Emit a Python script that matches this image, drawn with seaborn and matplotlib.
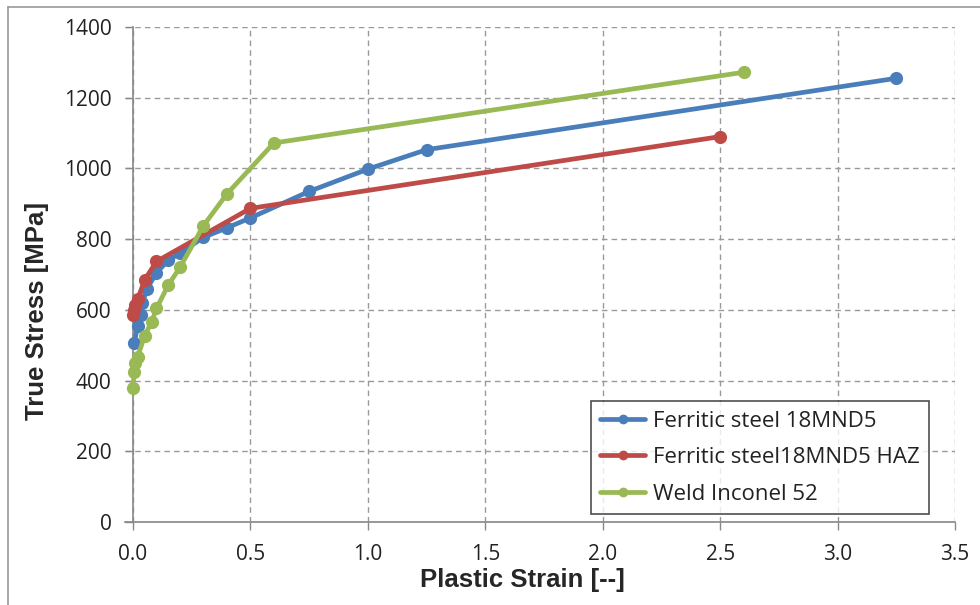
import pandas as pd
import seaborn as sns
import matplotlib.pyplot as plt
from matplotlib.lines import Line2D

# Data
blue_x = [0.005, 0.02, 0.035, 0.04, 0.06, 0.1, 0.15, 0.2, 0.3, 0.4, 0.5, 0.75, 1.0, 1.25, 3.25]
blue_y = [505, 555, 585, 620, 660, 705, 740, 760, 805, 832, 860, 935, 998, 1053, 1255]

red_x = [0.0, 0.005, 0.01, 0.02, 0.05, 0.1, 0.5, 2.5]
red_y = [585, 600, 615, 630, 685, 737, 887, 1090]

green_x = [0.0, 0.005, 0.01, 0.02, 0.05, 0.08, 0.1, 0.15, 0.2, 0.3, 0.4, 0.6, 2.6]
green_y = [380, 425, 450, 468, 527, 567, 604, 670, 720, 838, 928, 1072, 1272]

names = ["Ferritic steel 18MND5", "Ferritic steel18MND5 HAZ", "Weld Inconel 52"]
colors = ["#4a7ebb", "#be4b48", "#98b954"]

frames = []
for name, xs, ys in zip(names, [blue_x, red_x, green_x], [blue_y, red_y, green_y]):
    frames.append(pd.DataFrame({"strain": xs, "stress": ys, "material": name}))
df = pd.concat(frames, ignore_index=True)

sns.set_style("white")
plt.rcParams['font.family'] = ['Open Sans', 'DejaVu Sans']

W, H = 980, 605
fig = plt.figure(figsize=(9.8, 6.05), dpi=100)
# plot area in pixels: left 125, right 955, top 27, bottom 522
ax = fig.add_axes([125 / W, 1 - 522 / H, (955 - 125) / W, (522 - 27) / H])

sns.lineplot(data=df, x="strain", y="stress", hue="material", palette=colors,
             marker="o", markersize=9.5, markeredgewidth=0, linewidth=3.4,
             sort=False, estimator=None, ax=ax, clip_on=False, zorder=5)

ax.set_xlim(-0.034, 3.5)
ax.set_ylim(0, 1400)
ax.set_xticks([0, 0.5, 1.0, 1.5, 2.0, 2.5, 3.0, 3.5])
ax.set_xticklabels(["0.0", "0.5", "1.0", "1.5", "2.0", "2.5", "3.0", "3.5"])
ax.set_yticks(range(0, 1401, 200))
ax.tick_params(axis="both", labelsize=15, length=5.5, width=1, color="#888888",
               direction="out", bottom=True, left=True, labelcolor="#222222")
ax.tick_params(axis="y", pad=10)
ax.tick_params(axis="x", pad=10)
ax.grid(True, linestyle=(0, (4, 3)), color="#999999", linewidth=1)

for side in ["top", "right"]:
    ax.spines[side].set_visible(False)
for side in ["left", "bottom"]:
    ax.spines[side].set_color("#888888")
    ax.spines[side].set_linewidth(1.2)
ax.spines["left"].set_position(("data", 0))

ax.set_xlabel("Plastic Strain [--]", fontsize=18.5, fontweight="bold", family="Liberation Sans")
ax.set_ylabel("True Stress [MPa]", fontsize=18.5, fontweight="bold", family="Liberation Sans")
ax.xaxis.set_label_coords((522 - 125) / 830, (522 - 568) / 495)
ax.yaxis.set_label_coords((49 - 125) / 830, (522 - 311) / 495)

leg = ax.legend(loc="lower left", bbox_to_anchor=((591 - 125) / 830, (522 - 514) / 495),
                fontsize=16, frameon=True, fancybox=False, handlelength=2.0,
                handletextpad=0.35, borderpad=0.42, borderaxespad=0, labelspacing=0.7)
leg.get_frame().set_edgecolor("#222222")
leg.get_frame().set_linewidth(1.2)
for txt in leg.get_texts():
    txt.set_color("#222222")
for line in leg.get_lines():
    line.set_linewidth(3.4)
    line.set_markersize(7)

# screenshot frame: top and left edges only
fig.add_artist(Line2D([8 / W, 1], [1 - 7 / H, 1 - 7 / H], color="#999999", linewidth=1.2))
fig.add_artist(Line2D([8 / W, 8 / W], [0, 1 - 7 / H], color="#999999", linewidth=1.2))

fig.savefig("out.png", dpi=100)
